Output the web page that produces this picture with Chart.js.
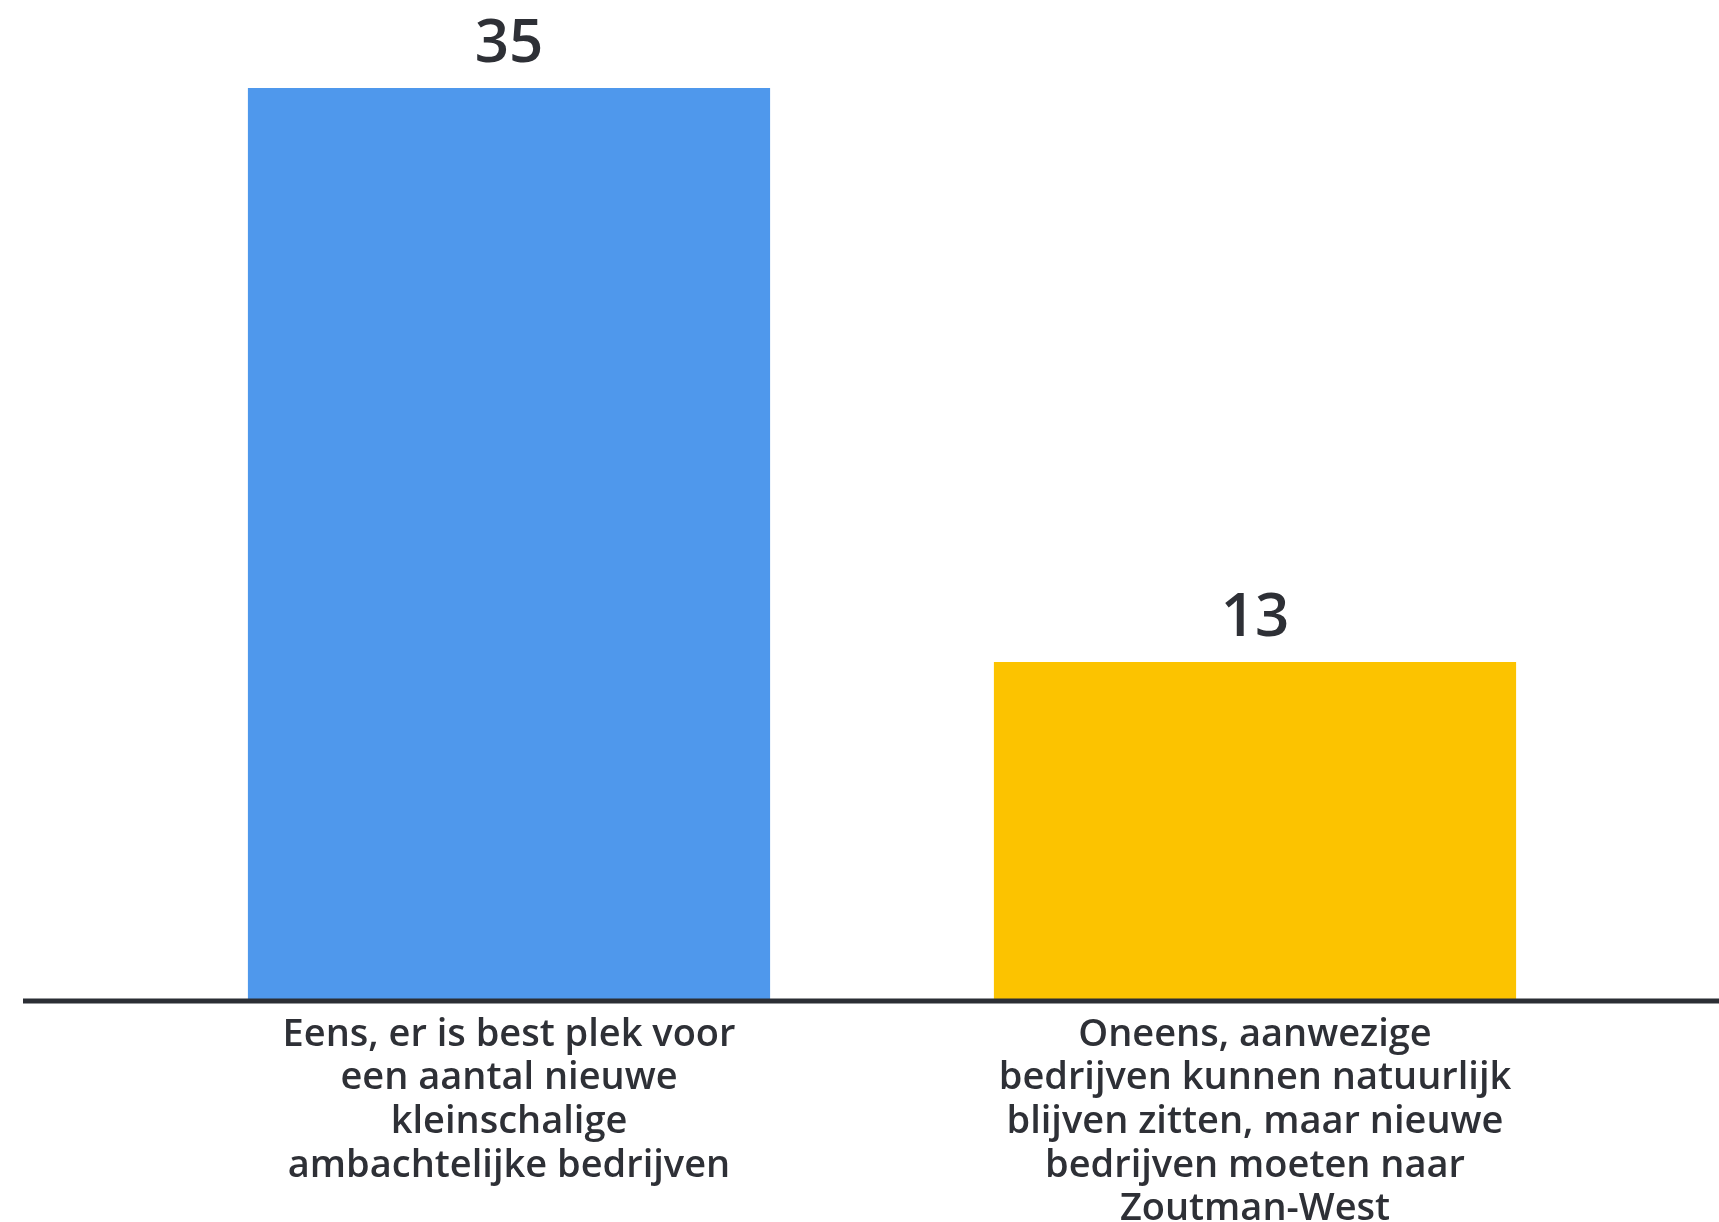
<!DOCTYPE html>
<html>
<head>
<meta charset="utf-8">
<script src="https://cdn.jsdelivr.net/npm/chart.js@4/dist/chart.umd.min.js"></script>
<style>
  html, body { margin: 0; padding: 0; background: #ffffff; }
  #wrap { width: 1719px; height: 1222px; }
</style>
</head>
<body>
<div id="wrap"><canvas id="myChart"></canvas></div>
<script>
// categories, one array of lines per bar
let categories = [
    ['Eens, er is best plek voor', 'een aantal nieuwe', 'kleinschalige', 'ambachtelijke bedrijven'],
    ['Oneens, aanwezige', 'bedrijven kunnen natuurlijk', 'blijven zitten, maar nieuwe', 'bedrijven moeten naar', 'Zoutman-West']
];
let values = [35, 13];
let barColors = ['#4f98ec', '#fcc300'];

const textColor = '#2e3036';
const fontFamily = '"Open Sans", Lato, sans-serif';

// value above each bar
const valueLabels = {
    id: 'valueLabels',
    afterDatasetsDraw(chart) {
        const ctx = chart.ctx;
        const meta = chart.getDatasetMeta(0);
        ctx.save();
        ctx.font = '600 60px ' + fontFamily;
        ctx.fillStyle = textColor;
        ctx.textAlign = 'center';
        ctx.textBaseline = 'alphabetic';
        meta.data.forEach(function (bar, i) {
            ctx.fillText(String(values[i]), bar.x, bar.y - 26);
        });
        ctx.restore();
    }
};

// baseline, runs wider than the category area
const baseLine = {
    id: 'baseLine',
    afterDatasetsDraw(chart) {
        const ctx = chart.ctx;
        const y = chart.chartArea.bottom;
        ctx.save();
        ctx.strokeStyle = '#2b2e34';
        ctx.lineWidth = 5;
        ctx.beginPath();
        ctx.moveTo(23, y);
        ctx.lineTo(chart.width, y);
        ctx.stroke();
        ctx.restore();
    }
};

const ctx = document.getElementById('myChart').getContext('2d');
let myChart = new Chart(ctx, {
    type: 'bar',
    data: {
        labels: categories,
        datasets: [{
            data: values,
            backgroundColor: barColors,
            borderWidth: 0,
            barPercentage: 0.7,
            categoryPercentage: 1
        }]
    },
    options: {
        responsive: true,
        maintainAspectRatio: false,
        animation: false,
        devicePixelRatio: 1,
        layout: {
            padding: { top: 88, left: 136, right: 91, bottom: 0 }
        },
        plugins: {
            legend: { display: false },
            tooltip: { enabled: false }
        },
        scales: {
            x: {
                grid: { display: false, drawTicks: false },
                border: { display: false },
                ticks: {
                    color: textColor,
                    font: { family: fontFamily, size: 38, weight: '600', lineHeight: 1.15 },
                    padding: 12,
                    maxRotation: 0,
                    autoSkip: false
                },
                afterFit: function (scale) {
                    scale.height = 221;
                }
            },
            y: {
                display: false,
                min: 0,
                max: 35
            }
        }
    },
    plugins: [valueLabels, baseLine]
});
</script>
</body>
</html>
